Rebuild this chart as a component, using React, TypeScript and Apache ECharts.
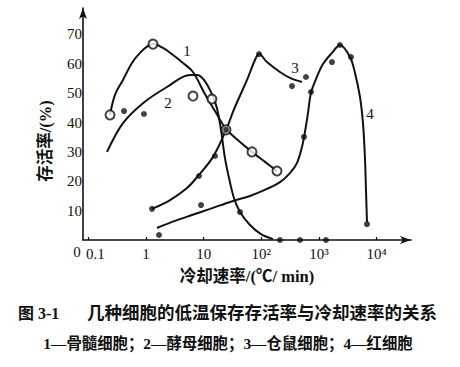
import React, { useEffect, useRef } from "react";
import * as echarts from "echarts";

// x tick values (cooling rate, °C/min, log scale) and their labels
const xTickValues = [0.1, 1, 10, 100, 1000, 10000];
const xTickLabels = ["0.1", "1", "10", "10²", "10³", "10⁴"];
// y tick labels (survival %)
const yTickValues = [10, 20, 30, 40, 50, 60, 70];

// 1 — bone marrow cells: fitted curve and measured points (open circles)
const boneMarrowFit: [number, number][] = [
  [0.238, 42.6], [0.29, 49.4], [0.399, 54.5], [0.571, 60.3], [0.787, 63.7],
  [1.08, 66.1], [1.32, 66.7], [1.97, 65.4], [2.94, 63.0], [4.38, 60.3],
  [6.53, 57.2], [10.5, 49.7], [15.7, 43.9], [24.4, 37.8], [39.4, 34.0],
  [68.7, 30.0], [115.6, 26.6], [186.6, 23.5],
];
const boneMarrowPts: [number, number][] = [
  [0.238, 42.6], [1.32, 66.7], [6.53, 49.0], [13.9, 48.0], [24.4, 37.5],
  [68.7, 30.0], [186.6, 23.5],
];

// 2 — yeast cells
const yeastFit: [number, number][] = [
  [0.211, 30.0], [0.399, 39.8], [0.887, 46.6], [2.31, 52.1], [5.79, 56.2],
  [7.66, 56.2], [10.1, 54.5], [13.9, 49.7], [17.0, 44.9], [19.95, 37.5],
  [23.4, 27.9], [27.5, 21.1], [33.5, 14.3], [42.6, 9.5], [63.5, 5.1],
  [98.4, 2.0], [158.9, 0.3],
];
const yeastPts: [number, number][] = [
  [0.416, 43.9], [0.922, 42.9], [42.6, 9.5], [210, 0], [467, 0], [1318, 0],
];

// 3 — hamster cells
const hamsterFit: [number, number][] = [
  [1.27, 10.6], [2.61, 13.6], [5.14, 17.7], [7.97, 21.8], [14.5, 28.3],
  [24.4, 37.5], [34.9, 45.3], [56.4, 54.5], [77.5, 61.3], [91.0, 63.3],
  [125, 60.6], [210, 57.2], [313, 55.2], [506, 53.8],
];
const hamsterPts: [number, number][] = [
  [1.27, 10.6], [8.3, 21.8], [15.7, 28.6], [24.4, 37.5], [91.0, 63.3],
  [340, 52.4], [593, 55.5],
];

// 4 — red blood cells
const rbcFit: [number, number][] = [
  [1.55, 4.1], [3.18, 6.5], [6.27, 8.5], [12.9, 10.6], [32.2, 13.3],
  [63.5, 15.0], [125, 17.4], [210, 19.7], [313, 22.8], [414, 26.2],
  [506, 31.7], [570, 36.8], [643, 43.2], [725, 50.1], [885, 54.8],
  [1170, 59.9], [1675, 63.7], [2307, 66.4], [3436, 62.3], [4198, 56.9],
  [5125, 48.7], [5777, 39.8], [6252, 27.9], [6511, 17.0], [6776, 6.1],
];
const rbcPts: [number, number][] = [
  [1.68, 1.7], [8.98, 11.9], [548, 35.1], [725, 50.4], [1675, 60.6],
  [2307, 66.4], [3579, 62.3], [6776, 5.4],
];

const curveLabels = ["1", "2", "3", "4"];
const xAxisName = "冷却速率/(℃/ min)";
const yAxisName = "存活率/(%)";
const captionFig = "图 3-1";
const captionTitle = "几种细胞的低温保存存活率与冷却速率的关系";
const captionLegend = "1—骨髓细胞；2—酵母细胞；3—仓鼠细胞；4—红细胞";

const SERIF = "'Liberation Serif', 'DejaVu Serif', 'Noto Sans CJK SC', serif";
const CJK = "'Liberation Serif', 'Noto Sans CJK SC', serif";

export default function App() {
  const ref = useRef<HTMLDivElement>(null);
  useEffect(() => {
    if (!ref.current) return;
    const chart = echarts.init(ref.current, undefined, { renderer: "svg" });
    const lineStyle = { color: "#111", width: 2 };
    const fitSeries = (data: [number, number][]) => ({
      type: "line",
      data,
      smooth: 0.35,
      showSymbol: false,
      symbol: "none",
      lineStyle,
      z: 2,
    });
    const openPts = (data: [number, number][]) => ({
      type: "scatter",
      data,
      symbol: "circle",
      symbolSize: 9,
      itemStyle: { color: "#fff", borderColor: "#111", borderWidth: 2 },
      z: 4,
    });
    const dotPts = (data: [number, number][], z = 3) => ({
      type: "scatter",
      data,
      symbol: "circle",
      symbolSize: 6,
      itemStyle: { color: "#111" },
      z,
    });
    const labelPos = [
      [187, 51],
      [168, 103],
      [295, 68],
      [370, 114],
    ];
    chart.setOption({
      animation: false,
      backgroundColor: "#fff",
      grid: { left: 83, right: 49, top: 8, bottom: 127 },
      xAxis: {
        type: "log",
        logBase: 10,
        min: 0.0809,
        max: 39270,
        name: xAxisName,
        nameLocation: "middle",
        nameGap: 28,
        nameTextStyle: { color: "#111", fontSize: 16.5, fontFamily: CJK, fontWeight: "bold" },
        axisLine: {
          show: true,
          symbol: ["none", "arrow"],
          symbolSize: [6, 11],
          lineStyle: { color: "#111", width: 1.6 },
        },
        axisTick: { show: true, inside: true, length: 3, lineStyle: { color: "#111", width: 1.2 } },
        axisLabel: {
          color: "#111",
          fontSize: 15,
          fontFamily: SERIF,
          margin: 6,
          showMinLabel: false,
          showMaxLabel: false,
          formatter: (v: number) => {
            for (let i = 0; i < xTickValues.length; i++) {
              if (Math.abs(Math.log10(v) - Math.log10(xTickValues[i])) < 1e-6) {
                return i === 0 ? "{first|" + xTickLabels[i] + "}" : xTickLabels[i];
              }
            }
            return "";
          },
          rich: {
            first: { fontSize: 15, fontFamily: SERIF, color: "#111", padding: [0, 0, 0, 14] },
          },
        },
        splitLine: { show: false },
      },
      yAxis: {
        type: "value",
        min: 0,
        max: 79,
        interval: 10,
        axisLine: {
          show: true,
          symbol: ["none", "arrow"],
          symbolSize: [6, 11],
          lineStyle: { color: "#111", width: 1.6 },
        },
        axisTick: { show: false },
        axisLabel: {
          color: "#111",
          fontSize: 15,
          fontFamily: SERIF,
          margin: 1,
          formatter: (v: number) => (yTickValues.indexOf(v) >= 0 ? String(v) : ""),
        },
        splitLine: { show: false },
      },
      series: [
        fitSeries(boneMarrowFit),
        fitSeries(yeastFit),
        fitSeries(hamsterFit),
        fitSeries(rbcFit),
        dotPts(yeastPts),
        dotPts(hamsterPts, 5),
        dotPts(rbcPts),
        openPts(boneMarrowPts),
      ],
      graphic: [
        {
          type: "text",
          x: 77,
          y: 252,
          style: { text: "0", fill: "#111", fontSize: 15, fontFamily: SERIF, align: "center", verticalAlign: "middle" },
        },
        {
          type: "text",
          x: 45,
          y: 141,
          rotation: Math.PI / 2,
          style: {
            text: yAxisName,
            fill: "#111",
            fontSize: 16.5,
            fontWeight: "bold",
            fontFamily: CJK,
            align: "center",
            verticalAlign: "middle",
          },
        },
        ...curveLabels.map((t, i) => ({
          type: "text",
          x: labelPos[i][0],
          y: labelPos[i][1],
          style: { text: t, fill: "#111", fontSize: 15, fontFamily: SERIF, align: "center", verticalAlign: "middle" },
        })),
        {
          type: "text",
          x: 18,
          y: 313,
          style: {
            text: captionFig,
            fill: "#111",
            fontSize: 16,
            fontWeight: "bold",
            fontFamily: CJK,
            align: "left",
            verticalAlign: "middle",
          },
        },
        {
          type: "text",
          x: 437,
          y: 313,
          style: {
            text: captionTitle,
            fill: "#111",
            fontSize: 17.5,
            fontWeight: "bold",
            fontFamily: CJK,
            align: "right",
            verticalAlign: "middle",
          },
        },
        {
          type: "text",
          x: 228,
          y: 343,
          style: {
            text: captionLegend,
            fill: "#111",
            fontSize: 15.4,
            fontWeight: "bold",
            fontFamily: CJK,
            align: "center",
            verticalAlign: "middle",
          },
        },
      ],
    });
    return () => chart.dispose();
  }, []);
  return (
    <div
      ref={ref}
      style={{ position: "fixed", left: 0, top: 0, width: 460, height: 367, background: "#fff" }}
    />
  );
}
